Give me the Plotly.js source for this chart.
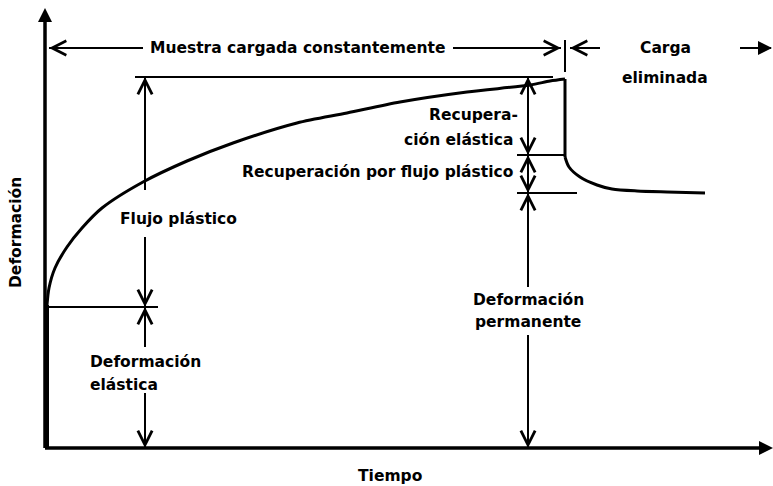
<!DOCTYPE html>
<html>
<head>
<meta charset="utf-8">
<script src="https://cdn.plot.ly/plotly-3.0.1.min.js"></script>
<style>
  html, body { margin: 0; padding: 0; background: #fff; }
  #chart { width: 773px; height: 486px; }
</style>
</head>
<body>
<div id="chart"></div>
<script>
// curva de fluencia (tiempo, deformacion), unidades arbitrarias
var loadT = [0, 2, 8, 20, 35, 55, 96, 140, 186, 250, 300, 353, 420, 483, 503, 518];
var loadD = [143, 160, 180, 201, 220, 240, 266, 287, 305, 325, 335, 346, 356, 363, 367, 369];
var unloadT = [518, 522, 533, 550, 565, 590, 620, 658];
var unloadD = [291, 281, 271, 263, 259, 257, 256, 255];

// niveles de referencia
var elasticLevel = 141;
var maxLevel = 371;
var recElasticLevel = 293;
var permanentLevel = 255;
var tLoad = 98;      // tiempo de las flechas izquierdas
var tUnload = 518;   // retiro de la carga
var tMeasure = 481;  // flechas de recuperacion

var black = '#000';
var font = { family: 'DejaVu Sans', size: 15.5, color: black, weight: 'bold' };

function seg(x0, y0, x1, y1, w) {
  return { x: [x0, x1], y: [y0, y1], mode: 'lines', hoverinfo: 'skip',
           line: { color: black, width: w || 2 } };
}

var traces = [
  // ejes
  seg(-2, 0, -2, 430, 3.5),
  seg(-2, 0, 718, 0, 3.5),
  // curva
  seg(0, 0, 0, elasticLevel + 2, 4),
  { x: loadT, y: loadD, mode: 'lines', hoverinfo: 'skip',
    line: { color: black, width: 3, shape: 'spline', smoothing: 0.8 } },
  seg(tUnload, loadD[loadD.length - 1], tUnload, unloadD[0], 3),
  { x: unloadT, y: unloadD, mode: 'lines', hoverinfo: 'skip',
    line: { color: black, width: 3, shape: 'spline', smoothing: 0.8 } },
  // lineas de referencia
  seg(88, maxLevel, 506, maxLevel, 2),
  seg(0, elasticLevel, 111, elasticLevel, 2),
  seg(470, recElasticLevel, tUnload, recElasticLevel, 2),
  seg(470, permanentLevel, 530, permanentLevel, 2),
  // lineas verticales (tramos de las flechas)
  seg(tLoad, maxLevel, tLoad, 258, 2),
  seg(tLoad, 211, tLoad, elasticLevel, 2),
  seg(tLoad, elasticLevel, tLoad, 101, 2),
  seg(tLoad, 55, tLoad, 0, 2),
  seg(tMeasure, maxLevel, tMeasure, 161, 2),
  seg(tMeasure, 113, tMeasure, 0, 2),
  // marca de retiro de carga
  seg(tUnload, 408, tUnload, 376, 2),
  // flechas superiores
  seg(2, 400, 96, 400, 2),
  seg(406, 400, 514, 400, 2),
  seg(523, 400, 553, 400, 2),
  seg(693, 400, 724, 400, 2)
];

function head(x, y, ax, ay, style, size) {
  return { x: x, y: y, ax: ax, ay: ay, xref: 'x', yref: 'y', axref: 'x', ayref: 'y',
           text: '', showarrow: true, arrowhead: style, arrowsize: size || 1.4,
           arrowwidth: 2, arrowcolor: black, standoff: 0 };
}

var annotations = [
  // puntas de ejes
  head(-2, 440, -2, 420, 2, 1.4),
  head(726, 0, 706, 0, 2, 1.4),
  // puntas abiertas
  head(tLoad, maxLevel, tLoad, maxLevel - 10, 5),
  head(tLoad, elasticLevel, tLoad, elasticLevel + 10, 5),
  head(tLoad, elasticLevel, tLoad, elasticLevel - 10, 5),
  head(tLoad, 0, tLoad, 10, 5),
  head(tMeasure, maxLevel, tMeasure, maxLevel - 10, 5),
  head(tMeasure, recElasticLevel, tMeasure, recElasticLevel + 10, 5),
  head(tMeasure, recElasticLevel, tMeasure, recElasticLevel - 10, 5),
  head(tMeasure, permanentLevel, tMeasure, permanentLevel + 10, 5),
  head(tMeasure, permanentLevel, tMeasure, permanentLevel - 10, 5),
  head(tMeasure, 0, tMeasure, 10, 5),
  head(2, 400, 12, 400, 5),
  head(514, 400, 504, 400, 5),
  head(523, 400, 533, 400, 5),
  head(725, 400, 715, 400, 2)
];

function label(x, y, text, anchor) {
  return { x: x, y: y, xref: 'x', yref: 'y', text: text, showarrow: false,
           xanchor: anchor || 'center', yanchor: 'middle', align: anchor || 'center', font: font };
}

annotations.push(
  label(250, 400, 'Muestra cargada constantemente'),
  label(618, 400, 'Carga'),
  label(618, 370, 'eliminada'),
  label(71, 229, 'Flujo plástico', 'left'),
  label(41, 86, 'Deformación', 'left'),
  label(41, 63, 'elástica', 'left'),
  label(473, 333, 'Recupera-', 'right'),
  label(468, 308, 'ción elástica', 'right'),
  label(468, 276, 'Recuperación por flujo plástico', 'right'),
  label(tMeasure, 148, 'Deformación'),
  label(tMeasure, 126, 'permanente'),
  { x: -31, y: 215, xref: 'x', yref: 'y', text: 'Deformación', showarrow: false,
    textangle: -90, font: font },
  label(343, -28, 'Tiempo')
);

var layout = {
  width: 773, height: 486,
  margin: { l: 0, r: 0, t: 0, b: 0 },
  paper_bgcolor: '#fff', plot_bgcolor: '#fff',
  showlegend: false,
  xaxis: { range: [-47, 726], visible: false, fixedrange: true },
  yaxis: { range: [-38, 448], visible: false, fixedrange: true },
  annotations: annotations
};

Plotly.newPlot('chart', traces, layout, { staticPlot: true });
</script>
</body>
</html>
